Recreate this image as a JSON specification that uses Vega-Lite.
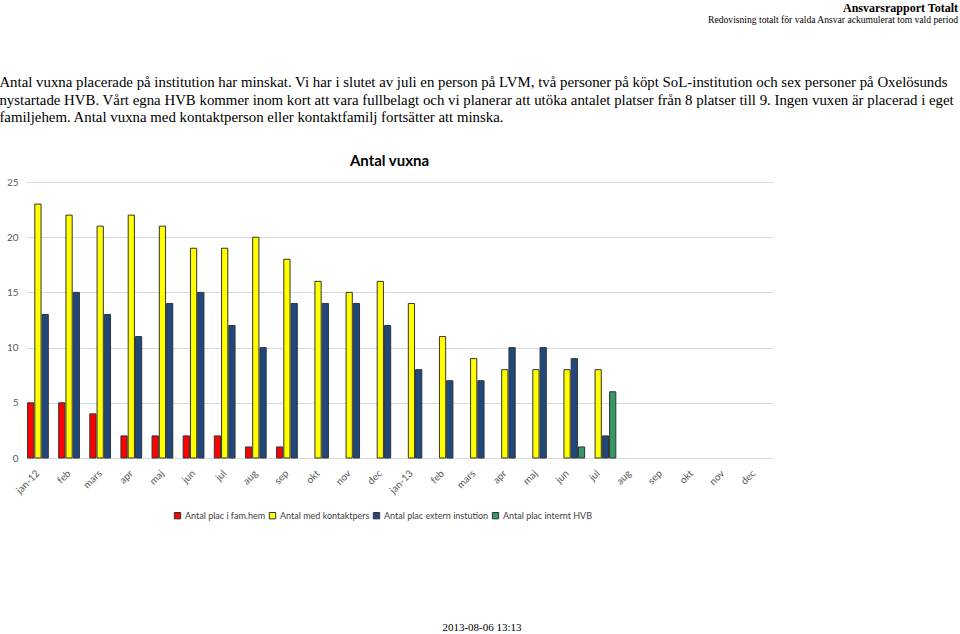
{
  "$schema": "https://vega.github.io/schema/vega-lite/v6.json",
  "background": "white",
  "padding": {"left": -1, "right": 3, "top": 1, "bottom": 0},
  "title": {
    "text": "Ansvarsrapport Totalt",
    "subtitle": "Redovisning totalt för valda Ansvar ackumulerat tom vald period",
    "anchor": "end",
    "font": "Liberation Serif",
    "fontSize": 12,
    "fontWeight": "bold",
    "color": "#000000",
    "subtitleFont": "Liberation Serif",
    "subtitleFontSize": 9.6,
    "subtitleColor": "#000000",
    "subtitlePadding": 0,
    "offset": 50
  },
  "datasets": {
    "bars": [
      {"month": "jan-12", "series": "Antal plac i fam.hem", "value": 5},
      {"month": "feb-12", "series": "Antal plac i fam.hem", "value": 5},
      {"month": "mars-12", "series": "Antal plac i fam.hem", "value": 4},
      {"month": "apr-12", "series": "Antal plac i fam.hem", "value": 2},
      {"month": "maj-12", "series": "Antal plac i fam.hem", "value": 2},
      {"month": "jun-12", "series": "Antal plac i fam.hem", "value": 2},
      {"month": "jul-12", "series": "Antal plac i fam.hem", "value": 2},
      {"month": "aug-12", "series": "Antal plac i fam.hem", "value": 1},
      {"month": "sep-12", "series": "Antal plac i fam.hem", "value": 1},
      {"month": "jan-12", "series": "Antal med kontaktpers", "value": 23},
      {"month": "feb-12", "series": "Antal med kontaktpers", "value": 22},
      {"month": "mars-12", "series": "Antal med kontaktpers", "value": 21},
      {"month": "apr-12", "series": "Antal med kontaktpers", "value": 22},
      {"month": "maj-12", "series": "Antal med kontaktpers", "value": 21},
      {"month": "jun-12", "series": "Antal med kontaktpers", "value": 19},
      {"month": "jul-12", "series": "Antal med kontaktpers", "value": 19},
      {"month": "aug-12", "series": "Antal med kontaktpers", "value": 20},
      {"month": "sep-12", "series": "Antal med kontaktpers", "value": 18},
      {"month": "okt-12", "series": "Antal med kontaktpers", "value": 16},
      {"month": "nov-12", "series": "Antal med kontaktpers", "value": 15},
      {"month": "dec-12", "series": "Antal med kontaktpers", "value": 16},
      {"month": "jan-13", "series": "Antal med kontaktpers", "value": 14},
      {"month": "feb-13", "series": "Antal med kontaktpers", "value": 11},
      {"month": "mars-13", "series": "Antal med kontaktpers", "value": 9},
      {"month": "apr-13", "series": "Antal med kontaktpers", "value": 8},
      {"month": "maj-13", "series": "Antal med kontaktpers", "value": 8},
      {"month": "jun-13", "series": "Antal med kontaktpers", "value": 8},
      {"month": "jul-13", "series": "Antal med kontaktpers", "value": 8},
      {"month": "jan-12", "series": "Antal plac extern instution", "value": 13},
      {"month": "feb-12", "series": "Antal plac extern instution", "value": 15},
      {"month": "mars-12", "series": "Antal plac extern instution", "value": 13},
      {"month": "apr-12", "series": "Antal plac extern instution", "value": 11},
      {"month": "maj-12", "series": "Antal plac extern instution", "value": 14},
      {"month": "jun-12", "series": "Antal plac extern instution", "value": 15},
      {"month": "jul-12", "series": "Antal plac extern instution", "value": 12},
      {"month": "aug-12", "series": "Antal plac extern instution", "value": 10},
      {"month": "sep-12", "series": "Antal plac extern instution", "value": 14},
      {"month": "okt-12", "series": "Antal plac extern instution", "value": 14},
      {"month": "nov-12", "series": "Antal plac extern instution", "value": 14},
      {"month": "dec-12", "series": "Antal plac extern instution", "value": 12},
      {"month": "jan-13", "series": "Antal plac extern instution", "value": 8},
      {"month": "feb-13", "series": "Antal plac extern instution", "value": 7},
      {"month": "mars-13", "series": "Antal plac extern instution", "value": 7},
      {"month": "apr-13", "series": "Antal plac extern instution", "value": 10},
      {"month": "maj-13", "series": "Antal plac extern instution", "value": 10},
      {"month": "jun-13", "series": "Antal plac extern instution", "value": 9},
      {"month": "jul-13", "series": "Antal plac extern instution", "value": 2},
      {"month": "jun-13", "series": "Antal plac internt HVB", "value": 1},
      {"month": "jul-13", "series": "Antal plac internt HVB", "value": 6}
    ],
    "stamp": [{"text": "2013-08-06 13:13"}]
  },
  "resolve": {"legend": {"color": "independent"}},
  "vconcat": [
    {
      "title": {
        "text": [
          "Antal vuxna placerade på institution har minskat. Vi har i slutet av juli en person på LVM, två personer på köpt SoL-institution och sex personer på Oxelösunds",
          "nystartade HVB. Vårt egna HVB kommer inom kort att vara fullbelagt och vi planerar att utöka antalet platser från 8 platser till 9. Ingen vuxen är placerad i eget",
          "familjehem. Antal vuxna med kontaktperson eller kontaktfamilj fortsätter att minska."
        ],
        "anchor": "start",
        "frame": "bounds",
        "font": "Liberation Serif",
        "fontSize": 14.85,
        "fontWeight": "normal",
        "lineHeight": 17.5,
        "color": "#000000",
        "dx": -7,
        "offset": 29
      },
      "resolve": {"legend": {"color": "independent"}},
      "vconcat": [
        {
          "title": {
            "text": "Antal vuxna",
            "anchor": "middle",
            "frame": "group",
            "font": "Lato",
            "fontSize": 15,
            "fontWeight": "bold",
            "color": "#000000",
            "dx": -10,
            "offset": 8
          },
          "width": 747,
          "height": 276,
          "data": {"name": "bars"},
          "mark": {"type": "bar", "stroke": "#333333", "strokeWidth": 1},
          "encoding": {
            "x": {
              "field": "month",
              "type": "nominal",
              "scale": {
                "domain": ["jan-12", "feb-12", "mars-12", "apr-12", "maj-12", "jun-12", "jul-12", "aug-12", "sep-12", "okt-12", "nov-12", "dec-12", "jan-13", "feb-13", "mars-13", "apr-13", "maj-13", "jun-13", "jul-13", "aug-13", "sep-13", "okt-13", "nov-13", "dec-13"],
                "paddingInner": 0.1,
                "paddingOuter": 0.05
              },
              "axis": {
                "title": null,
                "labelAngle": -45,
                "labelAlign": "right",
                "labelExpr": "indexof(datum.value, 'jan') == 0 ? datum.value : split(datum.value, '-')[0]",
                "labelFont": "Lato",
                "labelFontSize": 10,
                "labelColor": "#595959",
                "labelPadding": 10,
                "labelOffset": -7,
                "domain": false,
                "ticks": false,
                "grid": false
              }
            },
            "xOffset": {
              "field": "series",
              "type": "nominal",
              "scale": {
                "domain": ["Antal plac i fam.hem", "Antal med kontaktpers", "Antal plac extern instution", "Antal plac internt HVB"],
                "paddingInner": 0.14,
                "paddingOuter": 0
              }
            },
            "y": {
              "field": "value",
              "type": "quantitative",
              "scale": {"domain": [0, 25]},
              "axis": {
                "title": null,
                "values": [0, 5, 10, 15, 20, 25],
                "labelFont": "Lato",
                "labelFontSize": 10,
                "labelColor": "#595959",
                "labelPadding": 8,
                "domain": false,
                "ticks": false,
                "gridColor": "#d9d9d9",
                "gridWidth": 1
              }
            },
            "color": {
              "field": "series",
              "type": "nominal",
              "scale": {
                "domain": ["Antal plac i fam.hem", "Antal med kontaktpers", "Antal plac extern instution", "Antal plac internt HVB"],
                "range": ["#ff0000", "#ffff00", "#1f497d", "#339966"]
              },
              "legend": {
                "title": null,
                "orient": "none",
                "legendX": 147,
                "legendY": 329,
                "direction": "horizontal",
                "symbolType": "square",
                "symbolSize": 40,
                "symbolStrokeColor": "#333333",
                "symbolStrokeWidth": 1,
                "labelFont": "Lato",
                "labelFontSize": 9,
                "labelColor": "#404040",
                "labelOffset": 3,
                "columnPadding": 1
              }
            }
          }
        },
        {
          "width": 932,
          "height": 20,
          "data": {"name": "stamp"},
          "mark": {"type": "text", "font": "Liberation Serif", "fontSize": 11, "color": "#000000", "dx": -10},
          "encoding": {"text": {"field": "text", "type": "nominal"}}
        }
      ],
      "spacing": 97
    }
  ],
  "config": {
    "view": {"stroke": null}
  }
}
